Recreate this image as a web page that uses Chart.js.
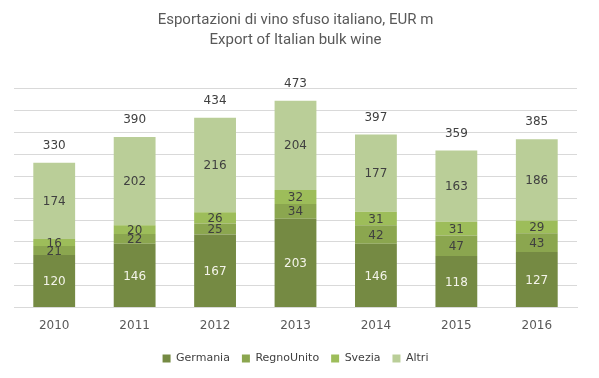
<!DOCTYPE html>
<html>
<head>
<meta charset="utf-8">
<script src="https://cdn.jsdelivr.net/npm/chart.js@4"></script>
<style>
  html, body { margin: 0; padding: 0; background: #fff; }
  #wrap { width: 599px; height: 378px; }
</style>
</head>
<body>
<div id="wrap"><canvas id="chart-vino"></canvas></div>
<script>
var anni = ['2010', '2011', '2012', '2013', '2014', '2015', '2016'];
var germania = [120, 146, 167, 203, 146, 118, 127];
var regnoUnito = [21, 22, 25, 34, 42, 47, 43];
var svezia = [16, 20, 26, 32, 31, 31, 29];
var altri = [174, 202, 216, 204, 177, 163, 186];
var totali = [330, 390, 434, 473, 397, 359, 385];

var labelColors = ['#f4f4ea', '#404040', '#404040', '#404040'];

// etichette dentro le barre + totali sopra
var barLabels = {
    id: 'barLabels',
    afterDatasetsDraw: function(chart) {
        var ctx = chart.ctx;
        ctx.save();
        ctx.font = '12px "DejaVu Sans"';
        ctx.textAlign = 'center';
        ctx.textBaseline = 'middle';
        chart.data.datasets.forEach(function(ds, i) {
            var meta = chart.getDatasetMeta(i);
            meta.data.forEach(function(bar, j) {
                ctx.fillStyle = labelColors[i];
                ctx.fillText(ds.data[j], bar.x, (bar.y + bar.base) / 2 + 1);
            });
        });
        var last = chart.getDatasetMeta(chart.data.datasets.length - 1);
        ctx.fillStyle = '#404040';
        last.data.forEach(function(bar, j) {
            ctx.fillText(totali[j], bar.x, bar.y - 17);
        });
        ctx.restore();
    }
};

var ctxVino = document.getElementById('chart-vino').getContext('2d');
var myChartVino = new Chart(ctxVino, {
    type: 'bar',
    data: {
        labels: anni,
        datasets: [
            { label: 'Germania', data: germania, backgroundColor: '#758a43' },
            { label: 'RegnoUnito', data: regnoUnito, backgroundColor: '#8ba64f' },
            { label: 'Svezia', data: svezia, backgroundColor: '#9dbd5a' },
            { label: 'Altri', data: altri, backgroundColor: '#bace98' }
        ]
    },
    options: {
        responsive: true,
        maintainAspectRatio: false,
        animation: false,
        layout: { padding: { left: 14, right: 22, top: 6, bottom: 4 } },
        datasets: { bar: { categoryPercentage: 1, barPercentage: 0.52 } },
        plugins: {
            title: {
                display: true,
                text: ['Esportazioni di vino sfuso italiano, EUR m', 'Export of Italian bulk wine'],
                color: '#595959',
                font: { family: 'Roboto', size: 15, weight: 'normal', lineHeight: 1.33 },
                padding: { top: 4, bottom: 39 }
            },
            legend: {
                position: 'bottom',
                labels: {
                    boxWidth: 8,
                    boxHeight: 8,
                    color: '#404040',
                    font: { family: '"DejaVu Sans"', size: 11 },
                    padding: 12
                }
            },
            tooltip: { enabled: false }
        },
        scales: {
            x: {
                stacked: true,
                grid: { display: false },
                border: { display: true, color: '#d9d9d9' },
                ticks: { color: '#595959', font: { family: '"DejaVu Sans"', size: 12 }, padding: 3 },
                afterFit: function(axis) { axis.height += 5; }
            },
            y: {
                stacked: true,
                min: 0,
                max: 500,
                ticks: { display: false, stepSize: 50 },
                border: { display: false },
                grid: { color: '#d9d9d9', drawTicks: false }
            }
        }
    },
    plugins: [barLabels]
});
</script>
</body>
</html>
